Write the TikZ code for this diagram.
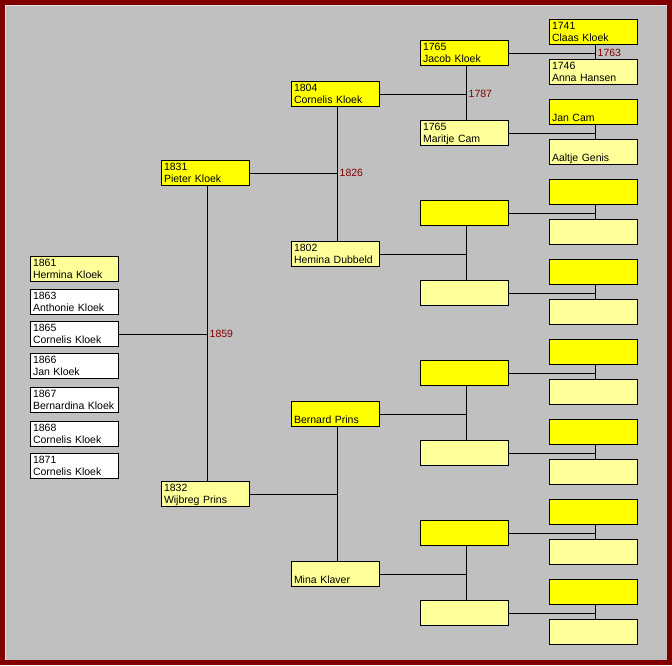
\documentclass[tikz,border=0pt]{standalone}
\usepackage{fontspec}
\setmainfont{Liberation Sans}
\usetikzlibrary{positioning, calc}
\definecolor{kinyellow}{RGB}{255, 255, 0}
\definecolor{kinpale}{RGB}{255, 255, 153}
\definecolor{kinframe}{RGB}{128, 0, 0}
\definecolor{kingray}{RGB}{192, 192, 192}

\tikzset{
  person/.style={draw, line width=1pt, anchor=north west, text width=83pt,
    inner xsep=2.5pt, inner ysep=0.5pt, minimum height=25pt, align=left,
    text height=9.4pt, text depth=14.6pt, font=\fontsize{10.5}{12}\selectfont},
  male/.style={person, fill=kinyellow},
  female/.style={person, fill=kinpale},
  kid/.style={person, fill=white},
  link/.style={line width=1pt},
  wed/.style={text=kinframe, anchor=west, inner xsep=2pt, inner ysep=0pt,
    font=\fontsize{10.5}{12}\selectfont},
}

% year and name, one per line
\newcommand{\yn}[2]{#1\\#2}
% couple: father, mother, their child
\newcommand{\couple}[3]{%
  \coordinate (#1-j) at ([xshift=2pt]#1.south);
  \draw[link] (#1-j) -- ([xshift=2pt]#2.north);
  \draw[link] (#3.east) -- (#3.east -| #1-j);
}

\begin{document}
\begin{tikzpicture}[x=1pt, y=-1pt]
  \useasboundingbox (0,0) rectangle (672,665);
  \fill[kinframe] (0,0) rectangle (672,665);
  \fill[kingray] (5,5) rectangle (667,660);
  \draw[kingray!45!white, line width=1pt] (5.5,660) -- (5.5,5.5) -- (667,5.5);

  % children
  \node[female] (hermina) at (30,256) {\yn{1861}{Hermina Kloek}};
  \node[kid] (anthonie) at (30,289) {\yn{1863}{Anthonie Kloek}};
  \node[kid] (cornelisb) at (30,321) {\yn{1865}{Cornelis Kloek}};
  \node[kid] (jan) at (30,353) {\yn{1866}{Jan Kloek}};
  \node[kid] (bernardina) at (30,387) {\yn{1867}{Bernardina Kloek}};
  \node[kid] (cornelisc) at (30,421) {\yn{1868}{Cornelis Kloek}};
  \node[kid] (cornelisd) at (30,453) {\yn{1871}{Cornelis Kloek}};

  % parents
  \node[male] (pieter) at (161,160) {\yn{1831}{Pieter Kloek}};
  \node[female] (wijbreg) at (161,481) {\yn{1832}{Wijbreg Prins}};

  % grandparents
  \node[male] (cornelis) at (291,81) {\yn{1804}{Cornelis Kloek}};
  \node[female] (hemina) at (291,241) {\yn{1802}{Hemina Dubbeld}};
  \node[male] (bernard) at (291,401) {\yn{}{Bernard Prins}};
  \node[female] (mina) at (291,561) {\yn{}{Mina Klaver}};

  % great-grandparents
  \node[male] (jacob) at (420,40) {\yn{1765}{Jacob Kloek}};
  \node[female] (maritje) at (420,120) {\yn{1765}{Maritje Cam}};
  \node[male] (hemdad) at (420,200) {\yn{}{}};
  \node[female] (hemmom) at (420,280) {\yn{}{}};
  \node[male] (berdad) at (420,360) {\yn{}{}};
  \node[female] (bermom) at (420,440) {\yn{}{}};
  \node[male] (minadad) at (420,520) {\yn{}{}};
  \node[female] (minamom) at (420,600) {\yn{}{}};

  % great-great-grandparents
  \node[male] (claas) at (549,19) {\yn{1741}{Claas Kloek}};
  \node[female] (anna) at (549,59) {\yn{1746}{Anna Hansen}};
  \node[male] (jancam) at (549,99) {\yn{}{Jan Cam}};
  \node[female] (aaltje) at (549,139) {\yn{}{Aaltje Genis}};
  \node[male] (hdadpa) at (549,179) {\yn{}{}};
  \node[female] (hdadma) at (549,219) {\yn{}{}};
  \node[male] (hmompa) at (549,259) {\yn{}{}};
  \node[female] (hmomma) at (549,299) {\yn{}{}};
  \node[male] (bdadpa) at (549,339) {\yn{}{}};
  \node[female] (bdadma) at (549,379) {\yn{}{}};
  \node[male] (bmompa) at (549,419) {\yn{}{}};
  \node[female] (bmomma) at (549,459) {\yn{}{}};
  \node[male] (mdadpa) at (549,499) {\yn{}{}};
  \node[female] (mdadma) at (549,539) {\yn{}{}};
  \node[male] (mmompa) at (549,579) {\yn{}{}};
  \node[female] (mmomma) at (549,619) {\yn{}{}};

  % marriages
  \couple{claas}{anna}{jacob}
  \couple{jancam}{aaltje}{maritje}
  \couple{hdadpa}{hdadma}{hemdad}
  \couple{hmompa}{hmomma}{hemmom}
  \couple{bdadpa}{bdadma}{berdad}
  \couple{bmompa}{bmomma}{bermom}
  \couple{mdadpa}{mdadma}{minadad}
  \couple{mmompa}{mmomma}{minamom}
  \couple{jacob}{maritje}{cornelis}
  \couple{hemdad}{hemmom}{hemina}
  \couple{berdad}{bermom}{bernard}
  \couple{minadad}{minamom}{mina}
  \couple{cornelis}{hemina}{pieter}
  \couple{bernard}{mina}{wijbreg}
  \couple{pieter}{wijbreg}{cornelisb}

  % wedding years
  \node[wed] (wed1763) at (jacob.east -| claas-j) {1763};
  \node[wed] (wed1787) at (cornelis.east -| jacob-j) {1787};
  \node[wed] (wed1826) at (pieter.east -| cornelis-j) {1826};
  \node[wed] (wed1859) at (cornelisb.east -| pieter-j) {1859};
\end{tikzpicture}
\end{document}
